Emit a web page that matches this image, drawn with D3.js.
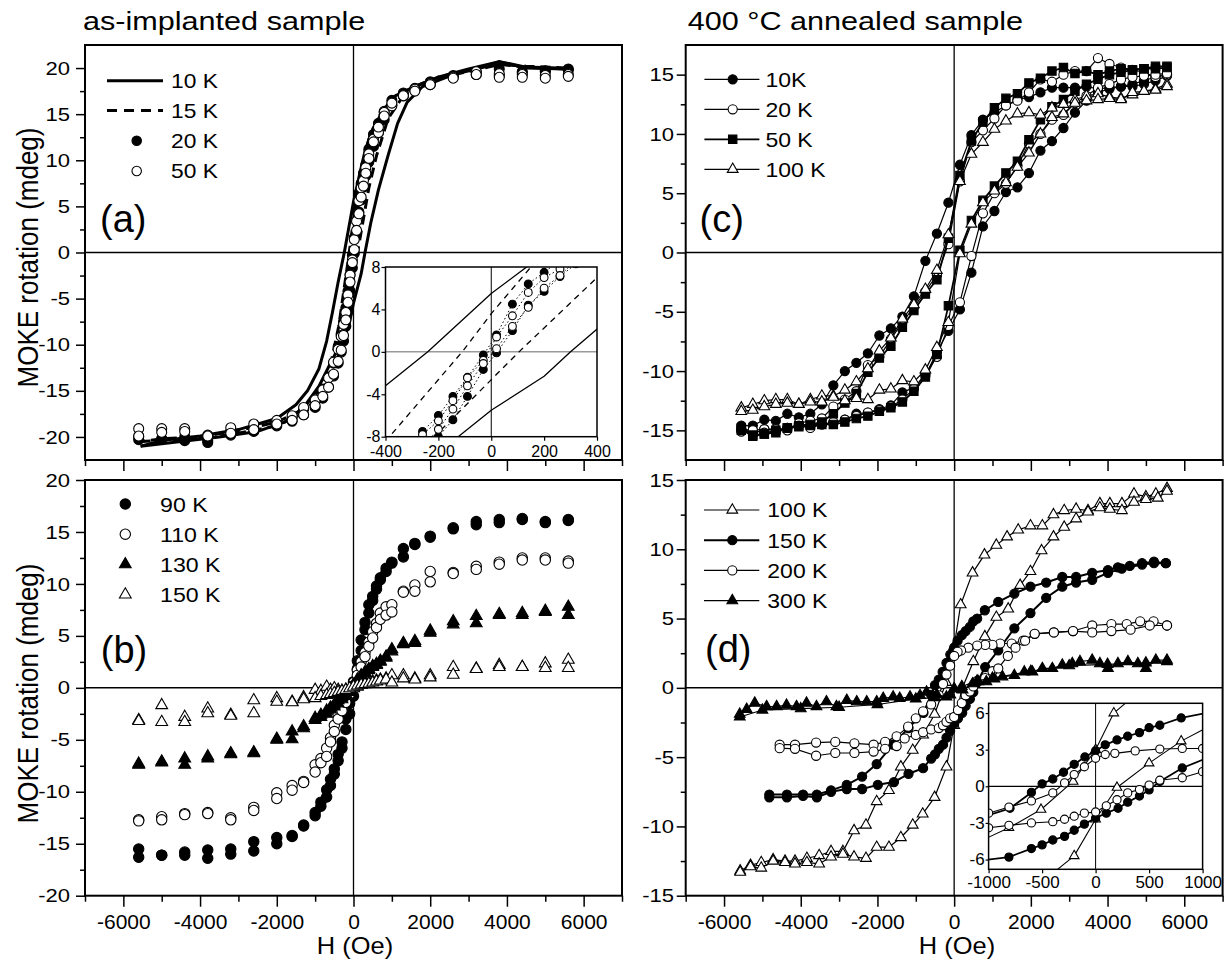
<!DOCTYPE html>
<html>
  <head>
    <meta charset="utf-8">
    <title>MOKE hysteresis loops</title>
    <script src="https://d3js.org/d3.v7.min.js"></script>
    <style>
      body { margin: 0; background: white; }
      text { font-family: "Liberation Sans", Arial, Helvetica, sans-serif; fill: black; }
    </style>
  </head>
  <body>
    <svg id="chart" width="1225" height="961"></svg>
    <script>
      // ---------- data ----------
      // shared tick values
      xTicks = [-6000, -4000, -2000, 0, 2000, 4000, 6000];
      xMinor = [-7000, -5000, -3000, -1000, 1000, 3000, 5000, 7000];
      yTicksAB = [-20, -15, -10, -5, 0, 5, 10, 15, 20];
      yMinorAB = [-17.5, -12.5, -7.5, -2.5, 2.5, 7.5, 12.5, 17.5];
      yTicksCD = [-15, -10, -5, 0, 5, 10, 15];
      yMinorCD = [-12.5, -7.5, -2.5, 2.5, 7.5, 12.5];
      insetAx = [-400, -200, 0, 200, 400];
      insetAy = [-8, -4, 0, 4, 8];
      insetDx = [-1000, -500, 0, 500, 1000];
      insetDy = [-6, -3, 0, 3, 6];

      // (a) as-implanted, 10 K and 15 K drawn as lines [H, M]
      a10Desc = [[5550,19.9],[4500,20.1],[3800,20.7],[3000,19.9],[2200,19.0],[1600,18.0],[1100,17.0],[800,15.6],[500,13.4],[300,11.0],[150,8.3],[0,5.5],[-240,0],[-400,-3.2],[-550,-6.5],[-700,-9.6],[-900,-12.6],[-1200,-15.0],[-1500,-16.5],[-2000,-18.0],[-3000,-19.2],[-4000,-19.9],[-5000,-20.4],[-5550,-21.0]];
      a10Asc = [[-5550,-21.0],[-4500,-20.5],[-3500,-20.0],[-2500,-19.4],[-1800,-18.4],[-1300,-16.8],[-900,-14.5],[-600,-12.0],[-350,-10.0],[-125,-8.0],[0,-5.5],[200,-2.3],[300,0],[450,3.2],[650,6.8],[900,10.5],[1150,14.0],[1400,16.3],[1800,18.0],[2600,19.3],[3200,19.9],[3800,20.7],[4500,20.0],[5550,19.9]];
      a15Desc = [[5550,20.0],[4500,20.2],[3800,20.4],[3000,19.8],[2200,19.0],[1600,18.0],[1100,17.0],[700,15.0],[400,12.3],[150,8.0],[0,3.6],[-110,0],[-385,-8.0],[-600,-12.2],[-900,-15.0],[-1400,-17.2],[-2000,-18.4],[-3000,-19.3],[-4000,-20.0],[-5000,-20.2],[-5550,-20.5]];
      a15Asc = [[-5550,-20.5],[-4000,-20.2],[-3000,-19.6],[-2000,-18.8],[-1400,-17.6],[-900,-15.6],[-600,-13.5],[-400,-11.0],[-215,-8.0],[105,0],[400,7.0],[600,10.5],[900,14.5],[1300,17.0],[1800,18.3],[2600,19.3],[3200,19.8],[3800,20.4],[4500,20.1],[5550,20.0]];
      // (a) 20 K and 50 K markers on a common field list
      fieldA = [-5600,-5000,-4400,-3800,-3200,-2600,-2000,-1600,-1300,-1000,-800,-650,-520,-400,-320,-260,-200,-145,-90,-30,20,80,140,200,260,320,400,520,650,800,1000,1300,1600,2000,2600,3200,3800,4400,5000,5600];
      a20Desc = [-20.0,-20.2,-20.0,-20.4,-19.4,-19.0,-18.4,-17.9,-17.0,-16.0,-14.8,-13.5,-12.0,-10.2,-9.0,-7.5,-6.0,-4.2,-2.4,-0.3,1.6,4.5,6.4,7.5,8.6,9.5,11.2,12.8,14.0,15.3,16.5,17.3,17.8,18.5,19.2,19.6,19.9,19.6,19.7,19.8];
      a20Asc = [-20.3,-20.2,-20.4,-20.6,-19.8,-19.4,-18.8,-18.3,-17.6,-16.8,-15.8,-14.6,-13.4,-12.0,-10.8,-9.6,-8.0,-6.4,-4.2,-1.66,-0.1,2.0,4.4,5.7,7.1,8.3,9.8,11.5,13.0,14.4,16.0,17.0,17.6,18.2,19.0,19.3,19.2,19.5,19.6,19.9];
      a50Desc = [-19.1,-19.1,-19.1,-19.8,-19.0,-18.6,-18.2,-17.7,-16.8,-16.0,-14.9,-13.6,-11.9,-10.5,-9.1,-7.8,-6.5,-4.6,-2.45,-0.8,1.4,3.4,5.6,7.0,7.8,9.2,10.7,12.3,13.0,15.2,15.9,17.0,17.7,18.3,19.0,19.6,19.4,19.3,19.2,19.3];
      a50Asc = [-19.9,-19.5,-19.4,-19.9,-19.6,-19.2,-18.6,-18.2,-17.6,-16.6,-15.6,-14.6,-13.2,-11.8,-10.6,-9.0,-7.3,-5.4,-3.2,-1.1,0.3,2.4,4.2,6.0,7.2,8.6,10.2,12.0,13.6,14.8,16.2,17.0,17.5,18.2,18.9,19.3,19.0,19.0,18.9,19.1];

      // (b) as-implanted, higher temperatures
      fieldB = [-5600,-5000,-4400,-3800,-3200,-2600,-2000,-1600,-1300,-1000,-850,-700,-600,-500,-400,-300,-200,-100,0,100,200,300,400,500,600,700,850,1000,1300,1600,2000,2600,3200,3800,4400,5000,5600];
      b90Desc = [-15.5,-16.1,-15.8,-15.6,-15.5,-14.8,-14.4,-14.2,-13.2,-12.0,-11.0,-9.8,-8.8,-7.8,-6.4,-5.2,-3.0,-1.5,0.6,2.6,4.6,6.3,8.0,8.8,9.8,10.6,11.2,12.1,13.4,13.9,14.6,15.4,16.0,16.2,16.3,16.0,16.2];
      b90Asc = [-16.3,-16.1,-16.1,-16.4,-16.0,-15.7,-15.0,-14.3,-13.3,-12.3,-11.4,-10.5,-9.4,-8.3,-7.0,-5.8,-4.0,-2.5,-0.8,1.8,3.6,5.6,7.2,8.4,9.5,10.4,11.5,12.0,12.6,13.8,14.5,15.3,15.7,15.9,16.2,15.9,16.1];
      b110Desc = [-12.7,-12.4,-12.1,-12.0,-12.5,-11.5,-10.1,-9.4,-9.0,-7.4,-6.8,-5.8,-4.8,-3.6,-2.6,-1.6,-0.8,-0.3,0.5,1.7,2.5,3.4,4.4,5.4,6.2,7.2,7.8,8.0,9.3,9.9,11.2,11.1,11.7,12.1,12.5,12.5,12.2];
      b110Asc = [-12.8,-12.7,-12.2,-12.1,-12.7,-11.8,-10.65,-9.85,-9.1,-8.1,-7.2,-6.6,-5.2,-4.2,-3.0,-2.2,-1.4,-0.6,0.2,1.2,2.0,3.0,4.0,4.8,5.8,6.6,7.0,7.3,9.2,9.3,10.2,11.0,11.4,11.9,12.3,12.3,12.0];
      b130Desc = [-7.3,-7.1,-6.8,-6.6,-6.3,-6.2,-4.9,-4.2,-3.7,-2.9,-2.6,-2.2,-1.9,-1.6,-1.2,-0.9,-0.6,-0.3,0.3,0.8,1.2,1.5,1.8,2.1,2.3,2.6,3.0,3.7,4.3,4.5,5.5,6.4,6.9,7.1,7.2,7.4,7.8];
      b130Asc = [-7.4,-7.2,-7.4,-6.8,-6.4,-6.3,-5.0,-4.95,-3.9,-3.1,-2.8,-2.5,-2.1,-1.8,-1.5,-1.1,-0.8,-0.4,0.0,0.5,1.0,1.4,1.7,2.0,2.2,2.5,2.9,3.5,4.2,4.3,5.3,6.1,6.2,7.0,7.0,7.3,7.0];
      b150Desc = [-3.1,-1.67,-2.8,-2.0,-2.6,-1.2,-1.0,-1.35,-0.9,-0.2,-0.3,0.1,-0.2,-0.05,-0.2,-0.3,-0.2,-0.1,-0.05,0.1,0.3,0.4,0.5,0.6,0.7,0.8,0.9,1.2,1.2,0.9,1.2,2.0,1.85,2.2,2.0,2.35,2.7];
      b150Asc = [-3.2,-3.3,-3.3,-2.45,-2.7,-2.45,-1.35,-1.4,-1.1,-1.0,-0.8,-0.7,-0.6,-0.5,-0.4,-0.3,-0.2,-0.05,0.1,0.2,0.3,0.35,0.4,0.5,0.6,0.7,0.8,0.5,0.9,0.8,1.0,1.25,1.8,2.0,2.0,1.9,1.9];

      // (c) 400 C annealed, low temperatures
      fieldC = [-5550,-5250,-4950,-4650,-4350,-4050,-3750,-3450,-3150,-2850,-2550,-2250,-1950,-1650,-1350,-1050,-750,-450,-150,150,450,750,1050,1350,1650,1950,2250,2550,2850,3150,3450,3750,4050,4350,4650,4950,5250,5550];
      c10Desc = [-14.6,-14.6,-14.1,-14.2,-13.6,-13.9,-13.6,-12.8,-11.2,-10.0,-9.3,-8.5,-7.0,-6.4,-5.4,-3.7,-0.7,1.6,4.2,7.4,9.9,11.2,11.8,12.4,12.9,13.1,13.5,13.9,13.9,13.9,14.0,13.8,13.9,14.0,14.0,14.2,14.5,14.9];
      c10Asc = [-14.9,-15.0,-14.9,-15.0,-14.8,-14.5,-14.6,-14.5,-14.4,-14.1,-13.6,-13.5,-13.2,-12.9,-11.8,-11.4,-10.4,-8.4,-6.6,-4.8,-1.7,2.2,3.5,5.1,5.5,6.7,8.6,9.4,10.5,11.8,12.8,13.5,13.8,14.0,14.2,14.5,14.8,15.0];
      c20Desc = [-14.9,-15.3,-14.9,-14.9,-15.0,-14.4,-14.2,-14.0,-13.0,-12.4,-11.7,-9.5,-8.8,-7.3,-5.9,-4.6,-3.3,-1.9,0.7,6.0,9.3,10.3,11.3,12.4,12.8,13.5,14.6,14.4,15.0,15.3,15.3,16.4,15.9,15.6,15.4,15.2,14.8,15.0];
      c20Asc = [-15.1,-15.0,-15.2,-15.1,-14.8,-14.6,-14.8,-14.5,-14.3,-14.1,-13.8,-13.5,-13.3,-13.0,-12.4,-11.5,-10.2,-8.8,-6.2,-4.2,-0.3,3.3,5.0,5.8,7.3,9.2,10.0,11.2,11.6,12.6,13.2,13.9,14.2,14.6,14.8,14.9,15.0,15.1];
      c50Desc = [-14.8,-15.5,-15.3,-15.2,-14.8,-14.6,-14.5,-14.3,-13.6,-12.7,-11.9,-10.1,-8.9,-7.9,-6.3,-4.9,-3.5,-2.3,1.2,6.5,9.4,11.0,12.2,13.0,13.4,14.3,14.7,15.3,15.6,15.1,15.3,15.0,15.3,15.5,15.4,15.5,15.7,15.7];
      c50Asc = [-15.0,-15.4,-15.3,-15.0,-14.8,-14.7,-14.6,-14.5,-14.5,-14.3,-14.0,-13.8,-13.4,-13.1,-12.6,-11.7,-10.5,-8.6,-4.5,0.2,2.7,4.4,5.6,6.7,7.7,9.5,11.2,12.3,12.9,13.6,14.2,14.6,15.0,15.2,15.4,15.5,15.5,15.6];
      c100Desc = [-13.1,-12.8,-12.5,-12.4,-12.4,-12.8,-12.4,-12.1,-12.1,-11.6,-10.9,-9.8,-8.3,-7.2,-5.6,-4.4,-3.1,-1.5,1.5,6.0,8.3,9.3,10.4,11.1,11.7,11.8,11.6,12.2,12.5,12.9,13.2,13.4,13.1,13.0,13.3,13.6,13.8,14.2];
      c100Asc = [-13.4,-13.3,-13.0,-12.8,-12.7,-12.8,-12.6,-12.6,-12.2,-12.5,-12.3,-12.4,-11.6,-11.5,-10.8,-10.9,-9.9,-8.0,-5.9,-0.1,2.4,4.2,5.2,5.9,7.2,8.4,10.0,11.4,11.7,12.6,12.8,12.9,13.0,12.9,13.5,13.6,13.7,14.0];

      // (d) 400 C annealed, higher temperatures [H, M]
      d100Desc = [[5550,14.4],[5260,14.0],[5000,13.8],[4690,14.0],[4375,13.3],[4060,13.3],[3800,13.3],[3490,12.8],[3180,12.9],[2870,12.8],[2590,12.5],[2300,11.7],[1990,11.7],[1670,11.4],[1380,10.9],[1100,10.3],[790,9.6],[480,8.3],[170,6.0],[0,3.0],[-210,0.4],[-510,-1.9],[-810,-3.4],[-1080,-4.5],[-1390,-5.7],[-1700,-7.4],[-2020,-8.2],[-2300,-9.9],[-2610,-10.3],[-2900,-11.8],[-3210,-11.8],[-3520,-12.1],[-3840,-12.3],[-4150,-12.5],[-4410,-12.5],[-4720,-12.4],[-5030,-12.6],[-5310,-12.8],[-5580,-13.2]];
      d100Asc = [[-5580,-13.3],[-5310,-12.9],[-5030,-13.0],[-4720,-12.5],[-4410,-12.6],[-4150,-12.7],[-3840,-12.6],[-3520,-12.7],[-3210,-12.2],[-2900,-12.0],[-2610,-12.2],[-2300,-12.3],[-2020,-11.5],[-1700,-11.5],[-1390,-10.8],[-1080,-9.9],[-820,-9.1],[-510,-7.9],[-200,-5.7],[0,-2.7],[200,-0.1],[500,1.9],[800,3.7],[1100,5.1],[1410,5.7],[1720,7.4],[1990,8.4],[2280,9.9],[2590,10.9],[2870,11.6],[3180,12.2],[3490,12.7],[3800,13.0],[4060,12.9],[4375,12.8],[4690,13.4],[5000,13.6],[5310,13.7],[5550,14.2]];
      d150Desc = [[5520,9.0],[5210,9.1],[4900,9.0],[4580,8.8],[4270,8.7],[4010,8.5],[3600,8.3],[3180,8.0],[2820,8.0],[2400,7.6],[1990,7.3],[1570,6.8],[1150,6.2],[800,5.6],[600,5.0],[500,4.8],[410,4.4],[300,4.1],[200,3.8],[90,3.4],[0,2.9],[-100,2.4],[-200,1.8],[-300,1.15],[-400,0.6],[-500,0.2],[-600,-0.5],[-800,-1.8],[-1190,-2.9],[-1600,-4.1],[-2020,-5.5],[-2400,-6.4],[-2800,-7.0],[-3210,-7.4],[-3580,-7.7],[-3940,-7.7],[-4360,-7.7],[-4820,-7.7]];
      d150Asc = [[-4820,-7.9],[-4360,-7.9],[-3940,-7.8],[-3580,-7.9],[-3210,-7.5],[-2800,-7.3],[-2400,-7.3],[-1990,-7.0],[-1570,-6.8],[-1190,-6.2],[-810,-5.8],[-600,-5.1],[-500,-4.8],[-400,-4.4],[-290,-4.1],[-200,-3.6],[-105,-3.1],[0,-2.6],[100,-2.2],[210,-1.8],[300,-1.3],[410,-0.8],[500,-0.3],[600,0.4],[810,1.5],[1150,2.7],[1570,4.3],[1990,5.4],[2400,6.5],[2820,7.3],[3180,7.6],[3600,7.8],[4010,8.3],[4370,8.6],[4900,8.9],[5210,9.0],[5520,9.0]];
      d200Desc = [[5550,4.5],[5200,4.8],[4850,4.8],[4500,4.6],[4100,4.6],[3600,4.5],[3100,4.1],[2600,4.0],[2100,3.9],[1800,3.4],[1500,3.2],[1200,3.2],[1000,3.1],[810,3.1],[600,3.05],[370,2.9],[180,2.7],[90,2.6],[0,2.3],[-105,1.6],[-200,0.96],[-290,0.28],[-400,-0.54],[-600,-1.2],[-810,-1.7],[-1000,-2.2],[-1200,-2.8],[-1500,-3.5],[-1800,-3.9],[-2100,-4.1],[-2600,-4.0],[-3100,-3.9],[-3600,-3.95],[-4150,-4.1],[-4550,-4.1]];
      d200Asc = [[-4550,-4.35],[-4150,-4.4],[-3600,-4.9],[-3100,-4.7],[-2600,-4.7],[-2100,-4.6],[-1800,-4.4],[-1500,-4.2],[-1290,-3.65],[-1000,-3.4],[-810,-3.2],[-600,-3.0],[-400,-2.9],[-290,-2.7],[-200,-2.45],[-105,-2.2],[0,-2.1],[100,-1.6],[200,-1.1],[300,-0.54],[410,-0.27],[500,0.1],[600,0.5],[810,0.7],[1000,1.2],[1150,1.4],[1400,2.3],[1600,2.9],[1850,3.4],[2100,3.9],[2600,4.0],[3100,4.1],[3600,4.0],[4100,4.1],[4600,4.2],[5100,4.5],[5550,4.5]];
      d300Desc = [[5550,2.0],[5260,2.0],[5000,1.4],[4790,1.75],[4530,1.9],[4270,1.75],[4010,1.4],[3800,1.75],[3600,2.0],[3280,1.9],[3080,1.75],[2820,1.65],[2560,1.4],[2300,1.4],[2040,1.15],[1830,1.15],[1570,0.9],[1260,0.8],[1050,0.65],[840,0.45],[630,0.45],[480,0.3],[220,-0.15],[0,-0.05],[-200,-0.65],[-450,-0.5],[-720,-0.3],[-890,-0.55],[-1150,-0.65],[-1420,-0.75],[-1590,-0.65],[-1850,-0.75],[-2020,-1.0],[-2280,-1.0],[-2540,-1.0],[-2800,-0.9],[-3070,-1.35],[-3330,-1.0],[-3590,-1.35],[-3850,-1.1],[-4110,-1.35],[-4370,-1.25],[-4630,-1.35],[-4890,-1.35],[-5200,-1.1],[-5410,-1.55],[-5590,-1.9]];
      d300Asc = [[-5590,-2.1],[-5000,-1.6],[-4000,-1.5],[-3000,-1.4],[-2000,-1.2],[-1000,-0.8],[-500,-0.7],[-100,-0.5],[200,0.1],[600,0.5],[1000,0.7],[2000,1.2],[3000,1.6],[4000,1.7],[5000,1.8],[5550,1.9]];

      // ---------- drawing ----------
      svg = d3.select("#chart");
      defs = svg.append("defs");
      clipCount = 0;

      function pairs(field, values) {
        return field.map(function(h, i) { return [h, values[i]]; });
      }

      function makePanel(xDomain, xr, yDomain, yr, inset) {
        let id = "clip" + (clipCount++);
        defs.append("clipPath").attr("id", id)
          .append("rect")
            .attr("x", xr[0]).attr("y", yr[0])
            .attr("width", xr[1] - xr[0]).attr("height", yr[1] - yr[0]);
        if (inset) {
          svg.append("rect")
            .attr("x", xr[0]).attr("y", yr[0])
            .attr("width", xr[1] - xr[0]).attr("height", yr[1] - yr[0])
            .attr("fill", "white");
        }
        let p = {
          x: d3.scaleLinear().domain(xDomain).range(xr),
          y: d3.scaleLinear().domain(yDomain).range([yr[1], yr[0]]),
          x0: xr[0], x1: xr[1], y0: yr[0], y1: yr[1]
        };
        p.back = svg.append("g");
        p.g = svg.append("g").attr("clip-path", "url(#" + id + ")");
        return p;
      }

      function zeroLines(p, hColor, hWidth, vWidth) {
        p.back.append("line")
          .attr("x1", p.x(0)).attr("x2", p.x(0))
          .attr("y1", p.y0).attr("y2", p.y1)
          .attr("stroke", "black").attr("stroke-width", vWidth);
        p.back.append("line")
          .attr("x1", p.x0).attr("x2", p.x1)
          .attr("y1", p.y(0)).attr("y2", p.y(0))
          .attr("stroke", hColor).attr("stroke-width", hWidth);
      }

      function tickGroup(axis, tx, ty) {
        let g = svg.append("g")
          .attr("transform", "translate(" + tx + "," + ty + ")")
          .call(axis);
        g.select(".domain").remove();
        return g;
      }

      function drawAxes(p, o) {
        // bottom ticks
        let xb = tickGroup(d3.axisBottom(p.x).tickValues(o.xMajor).tickSize(o.xTick)
          .tickPadding(o.xPad).tickFormat(o.xLabels ? String : function() { return ""; }), 0, p.y1);
        xb.selectAll("line").attr("stroke-width", o.tickWidth);
        xb.selectAll("text").attr("font-size", o.xFont);
        if (o.xMinor) {
          tickGroup(d3.axisBottom(p.x).tickValues(o.xMinor).tickSize(o.xTick * 0.55)
            .tickFormat(function() { return ""; }), 0, p.y1)
            .selectAll("line").attr("stroke-width", o.tickWidth);
        }
        // left ticks
        let yl = tickGroup(d3.axisLeft(p.y).tickValues(o.yMajor).tickSize(o.yTick)
          .tickPadding(o.yPad).tickFormat(String), p.x0, 0);
        yl.selectAll("line").attr("stroke-width", o.tickWidth);
        yl.selectAll("text").attr("font-size", o.yFont)
          .attr("transform", "scale(" + o.ySx + ",1)");
        if (o.yMinor) {
          tickGroup(d3.axisLeft(p.y).tickValues(o.yMinor).tickSize(o.yTick * 0.55)
            .tickFormat(function() { return ""; }), p.x0, 0)
            .selectAll("line").attr("stroke-width", o.tickWidth);
        }
        // frame
        svg.append("rect")
          .attr("x", p.x0).attr("y", p.y0)
          .attr("width", p.x1 - p.x0).attr("height", p.y1 - p.y0)
          .attr("fill", "none").attr("stroke", "black").attr("stroke-width", o.frame);
      }

      function drawLine(p, data, width, dash) {
        p.g.append("path")
          .datum(data)
          .attr("d", d3.line().x(function(d) { return p.x(d[0]); }).y(function(d) { return p.y(d[1]); }))
          .attr("fill", "none")
          .attr("stroke", "black")
          .attr("stroke-width", width)
          .attr("stroke-linejoin", "round")
          .attr("stroke-dasharray", dash);
      }

      function drawPoints(p, data, type, filled, size) {
        p.g.selectAll(null)
            .data(data)
          .enter().append("path")
            .attr("transform", function(d) { return "translate(" + p.x(d[0]) + "," + p.y(d[1]) + ")"; })
            .attr("d", d3.symbol().type(type).size(size))
            .attr("fill", filled ? "black" : "white")
            .attr("stroke", "black")
            .attr("stroke-width", 1.1);
      }

      function text(x, y, str, size, sx, anchor) {
        svg.append("text")
          .attr("transform", "translate(" + x + "," + y + ") scale(" + sx + ",1)")
          .attr("font-size", size)
          .attr("text-anchor", anchor || "start")
          .text(str);
      }

      function legendLine(x1, x2, y, width, dash) {
        svg.append("line")
          .attr("x1", x1).attr("x2", x2).attr("y1", y).attr("y2", y)
          .attr("stroke", "black").attr("stroke-width", width)
          .attr("stroke-dasharray", dash);
      }

      function legendPoint(x, y, type, filled, size) {
        svg.append("path")
          .attr("transform", "translate(" + x + "," + y + ")")
          .attr("d", d3.symbol().type(type).size(size))
          .attr("fill", filled ? "black" : "white")
          .attr("stroke", "black").attr("stroke-width", 1.1);
      }

      leftX = [85, 622];
      rightX = [685.7, 1222.6];
      topY = [45, 460];
      botY = [480, 895.7];
      mainAxes = { xTick: 11, xPad: 7, xFont: 21, yTick: 9, yFont: 19, ySx: 1.16,
        tickWidth: 1.5, frame: 2, xMajor: xTicks, xMinor: xMinor };

      // ----- panel (a) -----
      pa = makePanel([-7000, 7000], leftX, [-22.5, 22.5], topY);
      zeroLines(pa, "black", 1.5, 1.3);
      drawLine(pa, a10Desc, 3, null);
      drawLine(pa, a10Asc, 3, null);
      drawLine(pa, a15Desc, 3, "10,6");
      drawLine(pa, a15Asc, 3, "10,6");
      drawPoints(pa, pairs(fieldA, a20Desc).concat(pairs(fieldA, a20Asc)), d3.symbolCircle, true, 78);
      drawPoints(pa, pairs(fieldA, a50Desc).concat(pairs(fieldA, a50Asc)), d3.symbolCircle, false, 78);
      drawAxes(pa, Object.assign({}, mainAxes, { xLabels: false, yMajor: yTicksAB, yMinor: yMinorAB, yPad: 3.9 }));

      // inset of (a)
      ia = makePanel([-400, 400], [385.5, 597], [-8, 8], [267, 436.7], true);
      zeroLines(ia, "#999", 1.5, 1);
      drawLine(ia, a10Desc, 1.3, null);
      drawLine(ia, a10Asc, 1.3, null);
      drawLine(ia, a15Desc, 1.3, "6,5");
      drawLine(ia, a15Asc, 1.3, "6,5");
      drawLine(ia, pairs(fieldA, a20Desc), 1, "1.5,2.5");
      drawLine(ia, pairs(fieldA, a20Asc), 1, "1.5,2.5");
      drawLine(ia, pairs(fieldA, a50Desc), 1, "1.5,2.5");
      drawLine(ia, pairs(fieldA, a50Asc), 1, "1.5,2.5");
      drawPoints(ia, pairs(fieldA, a20Desc).concat(pairs(fieldA, a20Asc)), d3.symbolCircle, true, 48);
      drawPoints(ia, pairs(fieldA, a50Desc).concat(pairs(fieldA, a50Asc)), d3.symbolCircle, false, 48);
      drawAxes(ia, { xMajor: insetAx, xTick: 4, xPad: 5, xFont: 16, xLabels: true,
        yMajor: insetAy, yTick: 4, yPad: 1, yFont: 16, ySx: 1, tickWidth: 1.2, frame: 1.5 });

      // ----- panel (b) -----
      pb = makePanel([-7000, 7000], leftX, [-20, 20], botY);
      zeroLines(pb, "black", 1.5, 1.3);
      drawPoints(pb, pairs(fieldB, b90Desc).concat(pairs(fieldB, b90Asc)), d3.symbolCircle, true, 84);
      drawPoints(pb, pairs(fieldB, b110Desc).concat(pairs(fieldB, b110Asc)), d3.symbolCircle, false, 84);
      drawPoints(pb, pairs(fieldB, b130Desc).concat(pairs(fieldB, b130Asc)), d3.symbolTriangle, true, 60);
      drawPoints(pb, pairs(fieldB, b150Desc).concat(pairs(fieldB, b150Asc)), d3.symbolTriangle, false, 60);
      drawAxes(pb, Object.assign({}, mainAxes, { xLabels: true, yMajor: yTicksAB, yMinor: yMinorAB, yPad: 3.9 }));

      // ----- panel (c) -----
      pc = makePanel([-7000, 7000], rightX, [-17.5, 17.5], topY);
      zeroLines(pc, "black", 1.5, 1.3);
      cSeries = [
        { desc: c10Desc, asc: c10Asc, type: d3.symbolCircle, filled: true, size: 66, w: 1.2 },
        { desc: c20Desc, asc: c20Asc, type: d3.symbolCircle, filled: false, size: 66, w: 1.2 },
        { desc: c50Desc, asc: c50Asc, type: d3.symbolSquare, filled: true, size: 70, w: 1.8 },
        { desc: c100Desc, asc: c100Asc, type: d3.symbolTriangle, filled: false, size: 50, w: 1.2 }
      ];
      cSeries.forEach(function(s) {
        drawLine(pc, pairs(fieldC, s.desc), s.w, null);
        drawLine(pc, pairs(fieldC, s.asc), s.w, null);
        drawPoints(pc, pairs(fieldC, s.desc).concat(pairs(fieldC, s.asc)), s.type, s.filled, s.size);
      });
      drawAxes(pc, Object.assign({}, mainAxes, { xLabels: false, yMajor: yTicksCD, yMinor: yMinorCD, yPad: 1.1 }));

      // ----- panel (d) -----
      pd = makePanel([-7000, 7000], rightX, [-15, 15], botY);
      zeroLines(pd, "black", 1.5, 1.3);
      dSeries = [
        { desc: d100Desc, asc: d100Asc, type: d3.symbolTriangle, filled: false, size: 50, w: 1.2 },
        { desc: d150Desc, asc: d150Asc, type: d3.symbolCircle, filled: true, size: 66, w: 2 },
        { desc: d200Desc, asc: d200Asc, type: d3.symbolCircle, filled: false, size: 66, w: 1.2 },
        { desc: d300Desc, asc: d300Asc, type: d3.symbolTriangle, filled: true, size: 50, w: 1.2 }
      ];
      dSeries.forEach(function(s) {
        drawLine(pd, s.desc, s.w, null);
        drawLine(pd, s.asc, s.w, null);
        drawPoints(pd, s.desc.concat(s.asc), s.type, s.filled, s.size);
      });
      drawAxes(pd, Object.assign({}, mainAxes, { xLabels: true, yMajor: yTicksCD, yMinor: yMinorCD, yPad: 1.1 }));

      // inset of (d)
      id_ = makePanel([-1000, 1000], [988.6, 1202.6], [-6.8, 6.8], [703.3, 869.3], true);
      zeroLines(id_, "black", 1.2, 1);
      dSeries.slice(0, 3).forEach(function(s) {
        drawLine(id_, s.desc, s.w * 0.9, null);
        drawLine(id_, s.asc, s.w * 0.9, null);
        drawPoints(id_, s.desc.concat(s.asc), s.type, s.filled, s.size * 0.8);
      });
      drawAxes(id_, { xMajor: insetDx, xTick: 4, xPad: 3, xFont: 17, xLabels: true,
        yMajor: insetDy, yTick: 3, yPad: 1, yFont: 17, ySx: 1, tickWidth: 1.2, frame: 1.5 });

      // ----- legends -----
      legendLine(107, 163, 80.7, 3, null);
      legendLine(107, 163, 110.5, 3, "10,7");
      legendPoint(136.7, 140.7, d3.symbolCircle, true, 70);
      legendPoint(136.7, 171, d3.symbolCircle, false, 70);
      ["10 K", "15 K", "20 K", "50 K"].forEach(function(t, i) {
        text(171, 88 + i * 30.1, t, 20, 1.14);
      });

      [[d3.symbolCircle, true, 84], [d3.symbolCircle, false, 84], [d3.symbolTriangle, true, 60], [d3.symbolTriangle, false, 60]]
        .forEach(function(m, i) { legendPoint(125.3, 504 + i * 30.2, m[0], m[1], m[2]); });
      ["90 K", "110 K", "130 K", "150 K"].forEach(function(t, i) {
        text(160, 511.5 + i * 30.2, t, 20.5, 1.13);
      });

      ["10K", "20 K", "50 K", "100 K"].forEach(function(t, i) {
        let s = cSeries[i], yy = 79.3 + i * 30;
        legendLine(704.4, 759.4, yy, s.w, null);
        legendPoint(732.7, yy, s.type, s.filled, s.size);
        text(765.4, yy + 7.3, t, 20, 1.15);
      });

      ["100 K", "150 K", "200 K", "300 K"].forEach(function(t, i) {
        let s = dSeries[i], yy = 510 + i * 30.2;
        legendLine(704, 759.3, yy, s.w, null);
        legendPoint(732.3, yy, s.type, s.filled, s.size);
        text(767.3, yy + 7.3, t, 20, 1.15);
      });

      // ----- panel letters, titles, axis titles -----
      text(100, 232, "(a)", 38, 1);
      text(100.8, 663, "(b)", 38, 1);
      text(699.6, 232, "(c)", 38, 1);
      text(705, 662, "(d)", 38, 1);

      text(83, 30, "as-implanted sample", 25.5, 1.2);
      text(687.7, 30, "400 \u00B0C annealed sample", 25.5, 1.2);

      text(355, 954, "H (Oe)", 24, 1.06, "middle");
      text(957, 954, "H (Oe)", 24, 1.06, "middle");

      [257.5, 693.5].forEach(function(cy) {
        svg.append("text")
          .attr("transform", "translate(37.5," + cy + ") scale(1.16,1) rotate(-90)")
          .attr("font-size", 26)
          .attr("text-anchor", "middle")
          .text("MOKE rotation (mdeg)");
      });
    </script>
  </body>
</html>
